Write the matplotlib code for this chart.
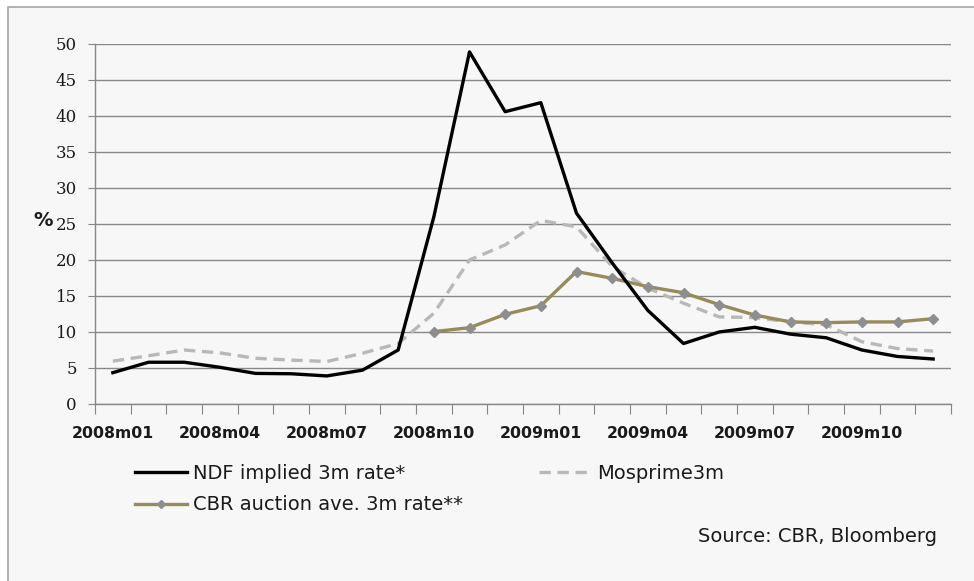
import numpy as np
import matplotlib
matplotlib.use("Agg")
import matplotlib.pyplot as plt
from matplotlib.patches import Rectangle
from matplotlib.lines import Line2D

months = ["2008m01", "2008m02", "2008m03", "2008m04", "2008m05", "2008m06",
          "2008m07", "2008m08", "2008m09", "2008m10", "2008m11", "2008m12",
          "2009m01", "2009m02", "2009m03", "2009m04", "2009m05", "2009m06",
          "2009m07", "2009m08", "2009m09", "2009m10", "2009m11", "2009m12"]

ndf_rate = [4.35, 5.8, 5.8, 5.1, 4.25, 4.2, 3.9, 4.7, 7.5, 26.0, 48.9, 40.6,
            41.85, 26.5, 19.6, 13.0, 8.4, 10.0, 10.65, 9.7, 9.2, 7.5, 6.6, 6.25]

mosprime = [5.95, 6.7, 7.5, 7.1, 6.35, 6.1, 5.9, 7.05, 8.4, 12.6, 20.0, 22.1,
            25.5, 24.6, 19.1, 16.1, 14.0, 12.1, 12.0, 11.4, 11.0, 8.65, 7.7, 7.35]

# CBR auctions only start in October 2008
cbr_auction = [None] * 9 + [10.05, 10.6, 12.45, 13.65, 18.4, 17.45, 16.3, 15.45,
                            13.8, 12.35, 11.4, 11.3, 11.4, 11.4, 11.85]

yticks = list(range(0, 55, 5))
label_every = 3

x = np.arange(len(months))
cbr = np.array([np.nan if v is None else v for v in cbr_auction])

fig = plt.figure(figsize=(9.74, 5.81), dpi=100)
fig.patch.set_facecolor("white")

# panel background with the thin grey frame
W, H = 974, 581
fig.add_artist(Rectangle((8 / W, -0.01), 1.0, 1 - 7 / H + 0.01,
                         transform=fig.transFigure, facecolor="#f7f7f7",
                         edgecolor="#a6a6a6", linewidth=1.2, zorder=-5))

ax = fig.add_axes([95 / W, 1 - 404 / H, (951 - 95) / W, (404 - 44) / H])
ax.set_facecolor("none")

grid_c = "#878787"
ax.plot(x, mosprime, color="#b8b8b8", lw=2.4, dashes=(3.4, 2.0),
        solid_joinstyle="round", zorder=3)
ax.plot(x, cbr, color="#968b5a", lw=2.4, marker="D", markersize=5.5,
        markerfacecolor="#8e8e8e", markeredgecolor="#8e8e8e", zorder=4)
ax.plot(x, ndf_rate, color="black", lw=2.4, solid_joinstyle="round", zorder=5)

ax.set_xlim(-0.5, len(months) - 0.5)
ax.set_ylim(0, 50)
ax.set_yticks(yticks)
ax.yaxis.grid(True, color=grid_c, lw=1.0)
ax.set_axisbelow(True)

for s in ["top", "right"]:
    ax.spines[s].set_visible(False)
for s in ["left", "bottom"]:
    ax.spines[s].set_color(grid_c)
    ax.spines[s].set_linewidth(1.0)

ax.tick_params(axis="y", direction="out", length=5, color=grid_c, pad=8,
               labelsize=12, labelcolor="#1a1a1a")
for lab in ax.get_yticklabels():
    lab.set_family("DejaVu Serif")

# ticks between months, labels under every third month
ax.set_xticks(np.arange(-0.5, len(months), 1.0))
ax.set_xticklabels([])
ax.tick_params(axis="x", which="major", direction="out", length=7, color=grid_c)
ax.set_xticks(x[::label_every], minor=True)
ax.set_xticklabels(months[::label_every], minor=True, fontsize=11.3,
                   fontweight="bold", color="#1a1a1a")
ax.tick_params(axis="x", which="minor", length=0, pad=16)

fig.text(33 / W, 1 - 220 / H, "%", fontsize=14, fontweight="bold",
         va="center", ha="left", color="#1a1a1a")

handles = [
    Line2D([], [], color="black", lw=2.4),
    Line2D([], [], color="#968b5a", lw=2.4, marker="D", markersize=4,
           markerfacecolor="#8e8e8e", markeredgecolor="#8e8e8e"),
    Line2D([], [], color="#b8b8b8", lw=2.4, dashes=(3.4, 2.0)),
]
labels = ["NDF implied 3m rate*", "CBR auction ave. 3m rate**", "Mosprime3m"]
leg = fig.legend(handles, labels, ncol=2, loc="upper left",
                 bbox_to_anchor=(125 / W, 1 - 454 / H), frameon=False,
                 prop={"family": "DejaVu Sans", "size": 14}, handlelength=2.7,
                 handletextpad=0.3, columnspacing=3.9, labelspacing=0.65,
                 borderpad=0)
for t in leg.get_texts():
    t.set_color("#1a1a1a")

fig.text(937 / W, 1 - 537 / H, "Source: CBR, Bloomberg", family="DejaVu Sans",
         fontsize=14, ha="right", va="center", color="#1a1a1a")

fig.savefig("out.png", dpi=100)
